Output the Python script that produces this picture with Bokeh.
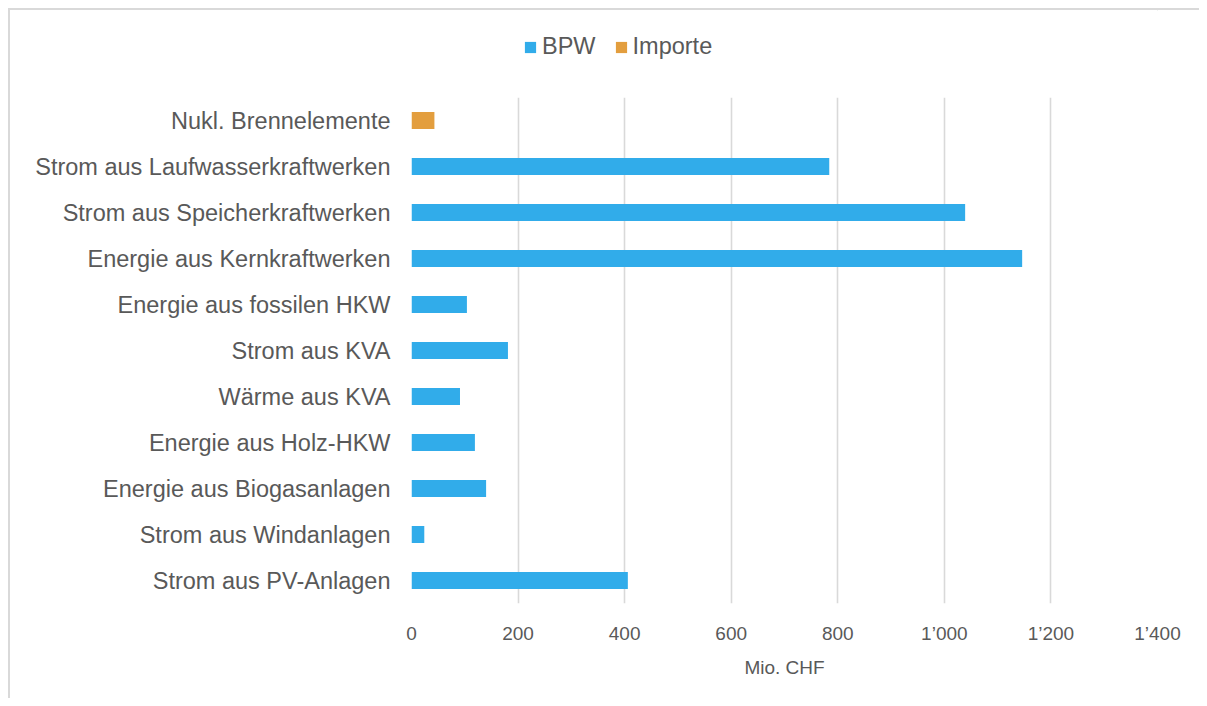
from bokeh.plotting import figure
from bokeh.layouts import column
from bokeh.models import Range1d, FactorRange, FixedTicker, Legend, LegendItem
from bokeh.embed import file_html
from bokeh.resources import INLINE

categories = ["Nukl. Brennelemente", "Strom aus Laufwasserkraftwerken",
              "Strom aus Speicherkraftwerken", "Energie aus Kernkraftwerken",
              "Energie aus fossilen HKW", "Strom aus KVA", "Wärme aus KVA",
              "Energie aus Holz-HKW", "Energie aus Biogasanlagen",
              "Strom aus Windanlagen", "Strom aus PV-Anlagen"]
bpw = [0, 784, 1039, 1146, 104, 181, 91, 119, 140, 24, 406]
importe = [43, 0, 0, 0, 0, 0, 0, 0, 0, 0, 0]
x_ticks = [0, 200, 400, 600, 800, 1000, 1200, 1400]
x_tick_labels = ["0", "200", "400", "600", "800", "1’000", "1’200", "1’400"]
series = ["BPW", "Importe"]
colors = ["#31ACEA", "#E39E3E"]

TEXT = "#595959"
FONT = "Liberation Sans"
W = 1189

# ---- legend strip (top) ----
lg = figure(width=W, height=87, output_backend="svg", toolbar_location=None,
            x_range=Range1d(0, 1), y_range=Range1d(0, 1),
            x_axis_type=None, y_axis_type=None,
            min_border_left=0, min_border_right=0, min_border_top=0, min_border_bottom=0)
lg.outline_line_color = None
lg.grid.grid_line_color = None
# legend key glyphs (placed outside the visible range; only used as legend keys)
lg_renderers = [lg.hbar(y=[5], left=[5], right=[6], height=0.5, color=c, line_color=None)
                for c in colors]
legend = Legend(items=[LegendItem(label=s, renderers=[r]) for s, r in zip(series, lg_renderers)],
                orientation="horizontal", location=(112, 37),
                label_text_font=FONT, label_text_font_size="23.5px",
                label_text_color=TEXT, glyph_width=14, glyph_height=14,
                label_standoff=5, spacing=18, padding=0, margin=0,
                border_line_color=None, background_fill_alpha=0)
lg.add_layout(legend, "center")

# ---- main chart ----
p = figure(width=W, height=601, output_backend="svg", toolbar_location=None,
           x_range=Range1d(0, 1400),
           y_range=FactorRange(factors=list(reversed(categories)), range_padding=0),
           min_border_left=401, min_border_right=42, min_border_top=0,
           min_border_bottom=95)
p.outline_line_color = None
p.background_fill_color = "white"
p.border_fill_color = "white"

data = dict(cat=categories, BPW=bpw, Importe=importe)
p.hbar_stack(series, y="cat", height=0.37, color=colors, line_color=None, source=data)

p.xaxis.ticker = FixedTicker(ticks=x_ticks)
p.xaxis.major_label_overrides = {t: l for t, l in zip(x_ticks, x_tick_labels)}
p.xaxis.axis_label = "Mio. CHF"
for ax in (p.xaxis, p.yaxis):
    ax.axis_line_color = None
    ax.major_tick_line_color = None
    ax.minor_tick_line_color = None
    ax.major_tick_out = 0
    ax.major_tick_in = 0
    ax.major_label_text_color = TEXT
p.xaxis.major_label_text_font = FONT
p.xaxis.major_label_text_font_size = "19px"
p.xaxis.major_label_standoff = 19
p.xaxis.axis_label_text_font = FONT
p.xaxis.axis_label_text_font_size = "19px"
p.xaxis.axis_label_text_font_style = "normal"
p.xaxis.axis_label_text_color = TEXT
p.xaxis.axis_label_standoff = 10
p.yaxis.major_label_text_font = FONT
p.yaxis.major_label_text_font_size = "23.5px"
p.yaxis.major_label_standoff = 21

p.ygrid.grid_line_color = None
p.xgrid.grid_line_color = "#D9D9D9"
p.xgrid.grid_line_width = 1.6

layout = column(lg, p, spacing=0)
layout.styles = {"border-top": "2px solid #d9d9d9", "border-left": "2px solid #d9d9d9",
                 "margin-left": "8px", "margin-top": "8px"}

open("out.html", "w").write(file_html(layout, INLINE))
